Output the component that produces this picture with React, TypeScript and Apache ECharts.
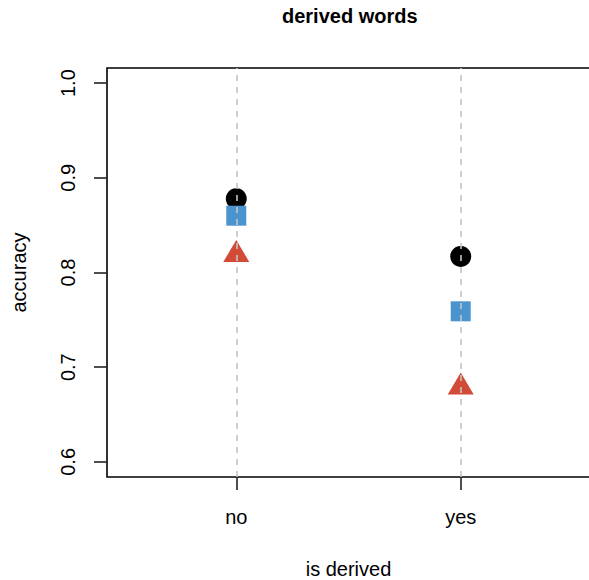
import React, { useEffect, useRef } from "react";
import * as echarts from "echarts";

const categories = ["no", "yes"];
const categoryPositions = [1, 2];
const blackCircleValues = [0.878, 0.817];
const blueSquareValues = [0.86, 0.759];
const redTriangleValues = [0.819, 0.679];
const yTicks = [0.6, 0.7, 0.8, 0.9, 1.0];
const titleText = "derived words";
const xName = "is derived";
const yName = "accuracy";

const FONT = "'Liberation Sans', Arial, Helvetica, sans-serif";

export default function App() {
  const ref = useRef<HTMLDivElement>(null);
  useEffect(() => {
    if (!ref.current) return;
    const chart = echarts.init(ref.current, undefined, { renderer: "svg" });
    const toPairs = (vals: number[]) => vals.map((v, i) => [categoryPositions[i], v]);
    chart.setOption({
      animation: false,
      backgroundColor: "#ffffff",
      textStyle: { fontFamily: FONT },
      title: {
        text: titleText,
        left: 282,
        top: 6,
        padding: 0,
        textStyle: { fontFamily: FONT, fontWeight: "bold", fontSize: 20, color: "#000" },
      },
      grid: {
        left: 107,
        top: 68,
        width: 483,
        height: 409,
        containLabel: false,
        outerBoundsMode: "none",
        show: true,
        borderColor: "#000",
        borderWidth: 1.6,
        backgroundColor: "transparent",
      },
      xAxis: {
        type: "value",
        min: 0.424,
        max: 2.576,
        axisLine: { show: false },
        splitLine: { show: false },
        axisTick: {
          show: true,
          customValues: categoryPositions,
          length: 13,
          lineStyle: { color: "#222", width: 1.6 },
        },
        axisLabel: {
          show: true,
          customValues: categoryPositions,
          margin: 30,
          fontSize: 20,
          color: "#000",
          fontFamily: FONT,
          formatter: (v: number) => {
            const i = categoryPositions.indexOf(Math.round(v));
            return i >= 0 ? categories[i] : "";
          },
        },
        name: xName,
        nameLocation: "middle",
        nameGap: 82,
        nameTextStyle: { fontSize: 20, color: "#000", fontFamily: FONT },
      },
      yAxis: {
        type: "value",
        min: 0.584,
        max: 1.016,
        axisLine: { show: false },
        splitLine: { show: false },
        axisTick: {
          show: true,
          customValues: yTicks,
          length: 13,
          lineStyle: { color: "#222", width: 1.6 },
        },
        axisLabel: {
          show: true,
          customValues: yTicks,
          rotate: 90,
          margin: 29,
          fontSize: 20,
          color: "#000",
          fontFamily: FONT,
          formatter: (v: number) => v.toFixed(1),
        },
        name: yName,
        nameLocation: "middle",
        nameGap: 78,
        nameRotate: 90,
        nameTextStyle: { fontSize: 20, color: "#000", fontFamily: FONT },
      },
      series: [
        {
          type: "scatter",
          name: "black",
          symbol: "circle",
          symbolSize: 21,
          itemStyle: { color: "#000000", opacity: 1 },
          data: toPairs(blackCircleValues),
          z: 2,
        },
        {
          type: "scatter",
          name: "blue",
          symbol: "rect",
          symbolSize: 20,
          itemStyle: { color: "#4B94D0", opacity: 1 },
          data: toPairs(blueSquareValues),
          z: 3,
        },
        {
          type: "scatter",
          name: "red",
          symbol: "triangle",
          symbolSize: [26, 22],
          symbolOffset: [0, -3.6],
          itemStyle: { color: "#D24B37", opacity: 1 },
          data: toPairs(redTriangleValues),
          z: 3,
        },
        {
          type: "scatter",
          name: "guides",
          data: [],
          z: 10,
          markLine: {
            silent: true,
            symbol: ["none", "none"],
            label: { show: false },
            z: 10,
            lineStyle: { type: [6, 6], color: "#C4C4C4", width: 1.6, opacity: 1 },
            data: categoryPositions.map((p) => ({ xAxis: p })),
          },
        },
      ],
    });
    return () => chart.dispose();
  }, []);
  return (
    <div
      ref={ref}
      style={{ position: "fixed", left: 0, top: 0, width: 589, height: 580 }}
    />
  );
}
